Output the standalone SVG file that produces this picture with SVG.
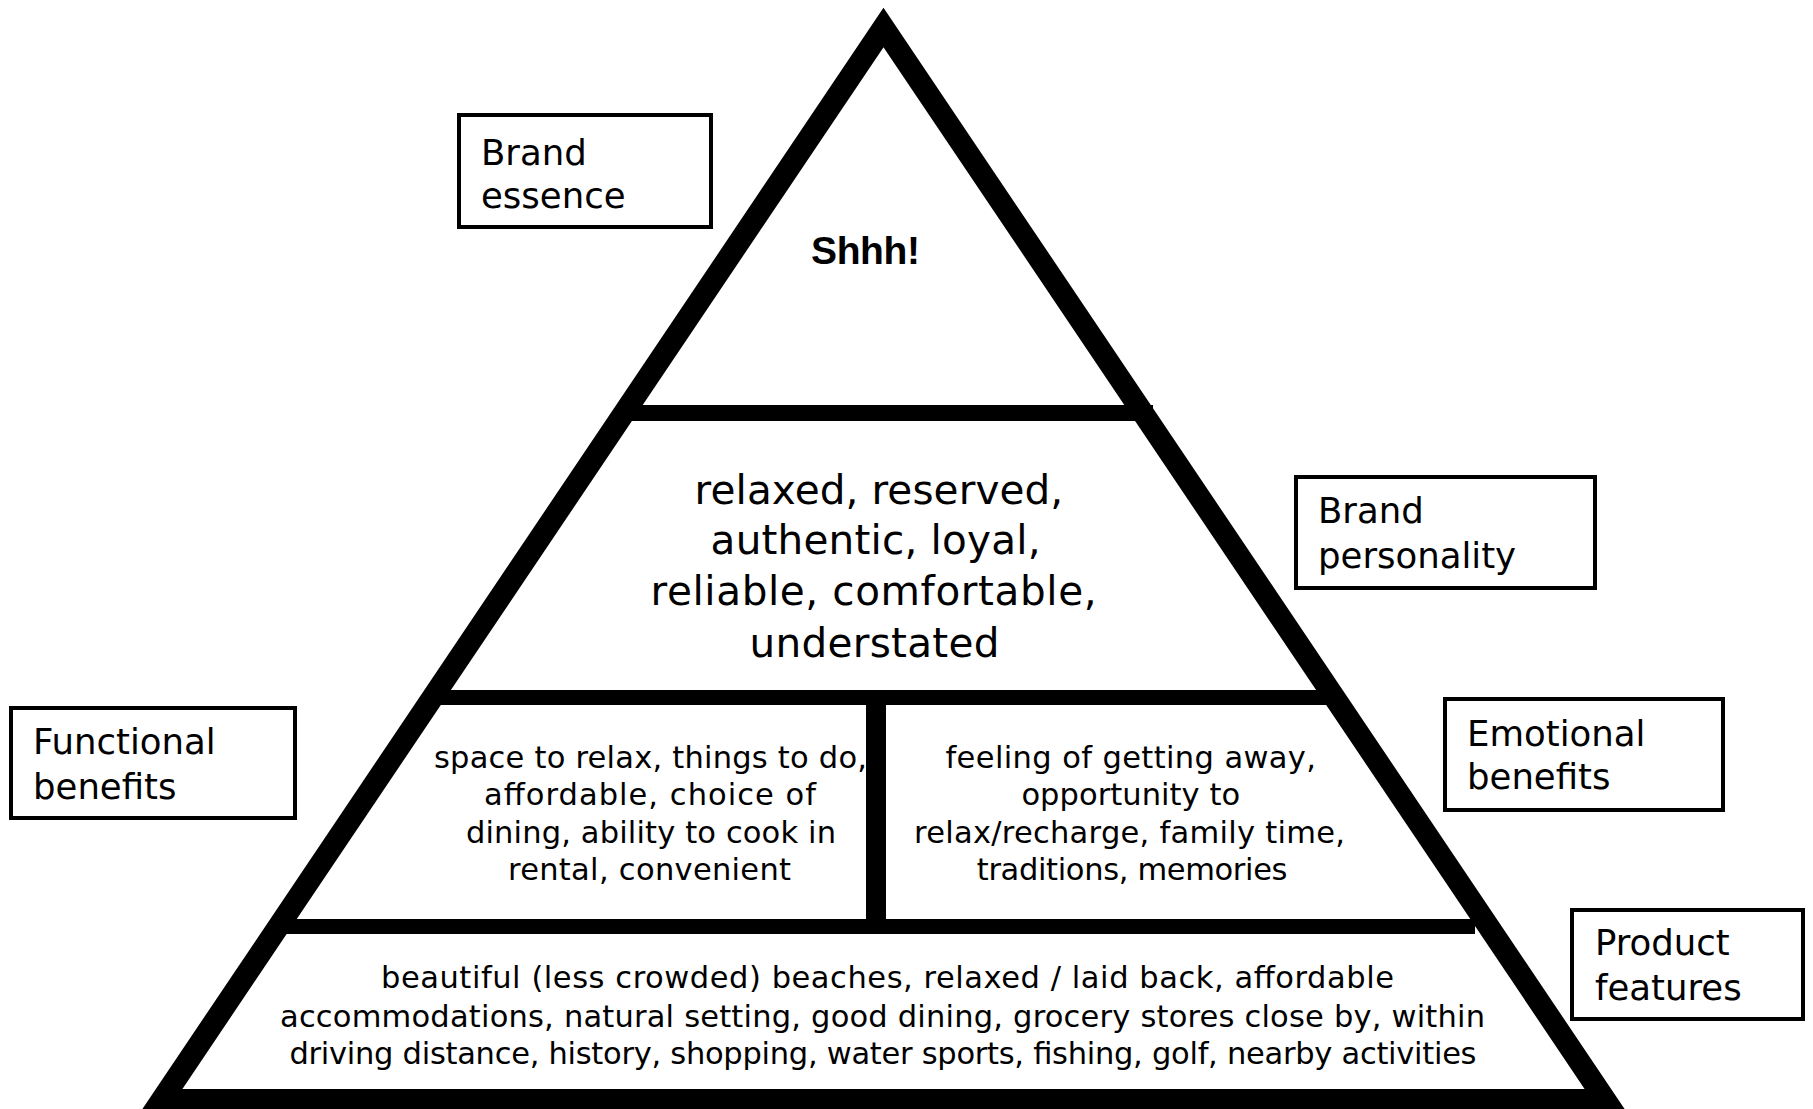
<svg xmlns="http://www.w3.org/2000/svg" width="1813" height="1109" viewBox="0 0 1813 1109">
<style>
.lbl{font-family:"DejaVu Sans","Liberation Sans",sans-serif;font-size:35.5px;fill:#000}
.box{fill:#fff;stroke:#000;stroke-width:4}
.mid{font-family:"DejaVu Sans","Liberation Sans",sans-serif;font-size:40.5px;fill:#000}
.sm{font-family:"DejaVu Sans","Liberation Sans",sans-serif;font-size:30.5px;fill:#000}
.bar{fill:#000}
</style>
<rect width="1813" height="1109" fill="#fff"/>
<g id="pyramid">
<polygon points="883.5,27.5 161.7,1100 1605.3,1100" fill="#fff" stroke="#000" stroke-width="22" stroke-linejoin="miter"/>
<rect class="bar" x="624" y="405" width="529" height="16"/>
<rect class="bar" x="432" y="690" width="898" height="15"/>
<rect class="bar" x="278" y="919" width="1197" height="15"/>
<rect class="bar" x="866" y="697" width="20" height="230"/>
</g>
<g id="essence">
<text x="811" y="263.5" font-family="Liberation Sans, Arial, sans-serif" font-weight="bold" font-size="39" textLength="109">Shhh!</text>
</g>
<g id="personality">
<text class="mid" x="694.6" y="503.5" textLength="368.6">relaxed, reserved,</text>
<text class="mid" x="710.6" y="554" textLength="330">authentic, loyal,</text>
<text class="mid" x="650.6" y="605" textLength="446">reliable, comfortable,</text>
<text class="mid" x="749.5" y="656.5" textLength="250">understated</text>
</g>
<g id="functional">
<text class="sm" x="434" y="767.5" textLength="433">space to relax, things to do,</text>
<text class="sm" x="484" y="805" textLength="332">affordable, choice of</text>
<text class="sm" x="466" y="842.7" textLength="370">dining, ability to cook in</text>
<text class="sm" x="508" y="880" textLength="283">rental, convenient</text>
</g>
<g id="emotional">
<text class="sm" x="945.5" y="767.5" textLength="370.5">feeling of getting away,</text>
<text class="sm" x="1021.4" y="805" textLength="218.7">opportunity to</text>
<text class="sm" x="914" y="842.7" textLength="431">relax/recharge, family time,</text>
<text class="sm" x="976.8" y="880" textLength="310.7">traditions, memories</text>
</g>
<g id="features">
<text class="sm" x="381" y="988" textLength="1013">beautiful (less crowded) beaches, relaxed / laid back, affordable</text>
<text class="sm" x="280" y="1026.5" textLength="1205">accommodations, natural setting, good dining, grocery stores close by, within</text>
<text class="sm" x="289.5" y="1064" textLength="1187">driving distance, history, shopping, water sports, fishing, golf, nearby activities</text>
</g>
<g id="label-brand-essence">
<rect class="box" x="459" y="115" width="252" height="112"/>
<text class="lbl" x="481" y="165">Brand</text>
<text class="lbl" x="481" y="208">essence</text>
</g>
<g id="label-brand-personality">
<rect class="box" x="1296" y="477" width="299" height="111"/>
<text class="lbl" x="1318" y="523">Brand</text>
<text class="lbl" x="1318" y="567.5">personality</text>
</g>
<g id="label-functional-benefits">
<rect class="box" x="11" y="708" width="284" height="110"/>
<text class="lbl" x="33" y="754">Functional</text>
<text class="lbl" x="33" y="798.5">benefits</text>
</g>
<g id="label-emotional-benefits">
<rect class="box" x="1445" y="699" width="278" height="111"/>
<text class="lbl" x="1467" y="746">Emotional</text>
<text class="lbl" x="1467" y="789">benefits</text>
</g>
<g id="label-product-features">
<rect class="box" x="1572" y="910" width="231" height="109"/>
<text class="lbl" x="1595" y="955">Product</text>
<text class="lbl" x="1595" y="999.5">features</text>
</g>
<g id="connectors"/>
</svg>
